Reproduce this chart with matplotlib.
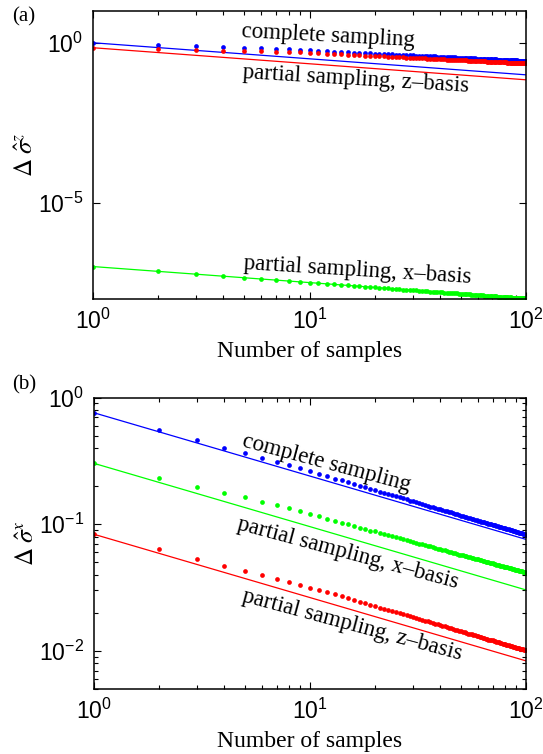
import numpy as np
import matplotlib
matplotlib.use("Agg")
import matplotlib.pyplot as plt
from matplotlib.ticker import FixedLocator, NullLocator, LogLocator, FuncFormatter

plt.rcParams['mathtext.fontset'] = 'stix'

# ---------------- data ----------------
samples = list(range(1, 101))

# panel (a): spread of sigma^z estimate
blue_a = [1.0, 0.866, 0.79, 0.735, 0.71, 0.68, 0.65, 0.63, 0.605, 0.580,
          .562, .546, .532, .519, .508, .496, .487, .478, .469, .462,
          .454, .447, .441, .434, .429, .423, .418, .413, .408, .404,
          .399, .395, .391, .387, .383, .380, .376, .374, .370, .367,
          .364, .361, .358, .356, .353, .350, .348, .346, .343, .341,
          .339, .336, .335, .332, .331, .328, .327, .325, .323, .321,
          .320, .318, .316, .314, .313, .311, .310, .308, .307, .305,
          .304, .302, .301, .300, .298, .297, .296, .295, .293, .292,
          .291, .289, .288, .287, .287, .285, .284, .283, .282, .281,
          .280, .279, .278, .277, .276, .275, .274, .273, .272, .271]
red_a = [0.70, 0.635, 0.59, 0.56, 0.545, 0.535, 0.523, 0.51, 0.50, 0.485,
         .470, .457, .445, .434, .424, .415, .407, .400, .392, .386,
         .380, .374, .369, .363, .358, .354, .350, .345, .341, .338,
         .334, .330, .327, .324, .321, .318, .315, .312, .309, .307,
         .305, .302, .300, .297, .295, .293, .291, .289, .287, .285,
         .283, .281, .280, .278, .276, .275, .273, .272, .270, .269,
         .267, .266, .264, .263, .261, .260, .259, .258, .257, .255,
         .254, .253, .252, .251, .249, .248, .247, .246, .245, .244,
         .243, .242, .241, .240, .240, .239, .238, .237, .236, .235,
         .234, .233, .232, .231, .231, .230, .229, .228, .227, .227]
green_a = [10.5e-8, 7.42e-8, 6.06e-8, 5.25e-8, 4.70e-8, 4.29e-8, 3.97e-8, 3.71e-8, 3.50e-8, 3.32e-8,
           3.17e-8, 3.03e-8, 2.91e-8, 2.81e-8, 2.71e-8, 2.63e-8, 2.55e-8, 2.47e-8, 2.41e-8, 2.35e-8,
           2.29e-8, 2.24e-8, 2.19e-8, 2.14e-8, 2.10e-8, 2.06e-8, 2.02e-8, 1.98e-8, 1.95e-8, 1.92e-8,
           1.89e-8, 1.86e-8, 1.83e-8, 1.80e-8, 1.77e-8, 1.75e-8, 1.73e-8, 1.70e-8, 1.68e-8, 1.66e-8,
           1.64e-8, 1.62e-8, 1.60e-8, 1.58e-8, 1.57e-8, 1.55e-8, 1.53e-8, 1.52e-8, 1.50e-8, 1.48e-8,
           1.47e-8, 1.46e-8, 1.44e-8, 1.43e-8, 1.42e-8, 1.40e-8, 1.39e-8, 1.38e-8, 1.37e-8, 1.36e-8,
           1.34e-8, 1.33e-8, 1.32e-8, 1.31e-8, 1.30e-8, 1.29e-8, 1.28e-8, 1.27e-8, 1.26e-8, 1.25e-8,
           1.25e-8, 1.24e-8, 1.23e-8, 1.22e-8, 1.21e-8, 1.20e-8, 1.20e-8, 1.19e-8, 1.18e-8, 1.17e-8,
           1.17e-8, 1.16e-8, 1.15e-8, 1.15e-8, 1.14e-8, 1.13e-8, 1.13e-8, 1.12e-8, 1.11e-8, 1.11e-8,
           1.10e-8, 1.10e-8, 1.09e-8, 1.08e-8, 1.08e-8, 1.07e-8, 1.07e-8, 1.06e-8, 1.06e-8, 1.05e-8]

# panel (b): spread of sigma^x estimate
blue_b = [0.76, 0.556, 0.46, 0.40, 0.364, 0.334, 0.31, 0.292, 0.277, 0.264,
          .250, .240, .230, .222, .214, .208, .201, .196, .190, .186,
          .181, .177, .173, .169, .166, .163, .160, .157, .154, .152,
          .149, .147, .145, .142, .140, .138, .136, .135, .133, .131,
          .130, .128, .127, .125, .124, .122, .121, .120, .119, .117,
          .116, .115, .114, .113, .112, .111, .110, .109, .108, .107,
          .106, .105, .105, .104, .103, .102, .101, .101, .0999, .0992,
          .0985, .0979, .0971, .0964, .0959, .0952, .0946, .0940, .0934, .0928,
          .0922, .0916, .0911, .0906, .0901, .0895, .0890, .0885, .0880, .0875,
          .0870, .0866, .0861, .0856, .0852, .0847, .0842, .0838, .0834, .0830]
green_b = [0.303, 0.233, 0.198, 0.177, 0.163, 0.150, 0.141, 0.134, 0.127, 0.121,
           .1161, .1111, .1068, .1029, .1004, .0973, .0943, .0917, .0892, .0879,
           .0858, .0838, .0819, .0802, .0794, .0779, .0764, .0750, .0737, .0729,
           .0717, .0705, .0695, .0684, .0678, .0668, .0659, .0650, .0642, .0639,
           .0631, .0623, .0616, .0609, .0602, .0595, .0589, .0583, .0577, .0576,
           .0570, .0565, .0559, .0554, .0549, .0544, .0539, .0534, .0530, .0528,
           .0524, .0519, .0515, .0511, .0507, .0503, .0500, .0496, .0492, .0491,
           .0488, .0485, .0481, .0478, .0475, .0471, .0469, .0465, .0462, .0462,
           .0459, .0456, .0453, .0451, .0448, .0445, .0443, .0440, .0438, .0437,
           .0435, .0433, .0430, .0428, .0426, .0424, .0421, .0419, .0417, .0415]
red_b = [0.0834, 0.0635, 0.0536, 0.0472, 0.0428, 0.0396, 0.037, 0.035, 0.0332, 0.0316,
         .0305, .0292, .0280, .0270, .0261, .0253, .0245, .0238, .0232, .0226,
         .0220, .0215, .0211, .0206, .0202, .0198, .0194, .0191, .0188, .0184,
         .0181, .0179, .0176, .0173, .0171, .0168, .0166, .0164, .0162, .0160,
         .0158, .0156, .0154, .0152, .0151, .0149, .0147, .0146, .0144, .0143,
         .0141, .0140, .0139, .0137, .0136, .0135, .0134, .0133, .0132, .0130,
         .0129, .0128, .0127, .0126, .0125, .0124, .0123, .0123, .0122, .0121,
         .0120, .0119, .0118, .0117, .0117, .0116, .0115, .0114, .0114, .0113,
         .0112, .0112, .0111, .0110, .0110, .0109, .0108, .0108, .0107, .0106,
         .0106, .0105, .0105, .0104, .0104, .0103, .0103, .0102, .0102, .0101]

# fitted 1/sqrt(N) lines (end points at N=1 and N=100)
fit_n = [1, 100]
blue_a_fit = [1.0, 0.1]
red_a_fit = [0.70, 0.070]
green_a_fit = [10.5e-8, 1.05e-8]
blue_b_fit = [0.76, 0.076]
green_b_fit = [0.303, 0.0303]
red_b_fit = [0.0834, 0.00834]

label_complete = "complete sampling"
label_z = "partial sampling, z\u2013basis"
label_x = "partial sampling, x\u2013basis"

# ---------------- figure ----------------
W, H = 543, 754
fig = plt.figure(figsize=(W / 100, H / 100), dpi=100)

def box(l, t, r, b):
    return [l / W, 1 - b / H, (r - l) / W, (b - t) / H]

A_TOP, A_BOT = 10.7, 299.3
B_TOP, B_BOT = 397.7, 689
axA = fig.add_axes(box(93, A_TOP, 526, A_BOT))
axB = fig.add_axes(box(94, B_TOP, 526, B_BOT))

BLUE, RED, GREEN = (0, 0, 1), (1, 0, 0), (0, 1, 0)
serif = 'Liberation Serif'
sans = 'Liberation Sans'
ms = 3.4
lw = 0.9

def sci(v, pos):
    e = int(round(np.log10(v)))
    return r'$\mathregular{10^{%d}}$' % e

def style(ax, top, bot, xlab_top):
    ax.set_xscale('log')
    ax.set_yscale('log')
    ax.set_xlim(1, 100)
    ax.xaxis.set_major_locator(FixedLocator([1, 10, 100]))
    ax.xaxis.set_minor_locator(LogLocator(base=10, subs=np.arange(2, 10)))
    ax.xaxis.set_major_formatter(FuncFormatter(sci))
    ax.xaxis.set_minor_formatter(FuncFormatter(lambda v, p: ''))
    ax.yaxis.set_major_formatter(FuncFormatter(sci))
    ax.yaxis.set_minor_formatter(FuncFormatter(lambda v, p: ''))
    ax.tick_params(which='both', direction='in', top=True, right=True, width=0.8)
    ax.tick_params(which='major', length=5, labelsize=16.5, pad=7)
    ax.tick_params(which='minor', length=3)
    for lab in ax.get_xticklabels() + ax.get_yticklabels():
        lab.set_fontfamily(sans)
    for s in ax.spines.values():
        s.set_linewidth(1.1)
    ax.set_xlabel('Number of samples', fontfamily=serif, fontsize=17)
    ax.xaxis.set_label_coords(0.5, -(xlab_top - bot) / (bot - top))
    ax.yaxis.set_label_coords(-0.128, 0.5)

# panel (a)
axA.plot(fit_n, blue_a_fit, '-', color=BLUE, lw=lw)
axA.plot(fit_n, red_a_fit, '-', color=RED, lw=lw)
axA.plot(fit_n, green_a_fit, '-', color=GREEN, lw=lw)
axA.plot(samples, blue_a, 'o', color=BLUE, ms=ms, mew=0)
axA.plot(samples, green_a, 'o', color=GREEN, ms=ms, mew=0)
axA.plot(samples, red_a, 'o', color=RED, ms=ms, mew=0)
axA.set_ylabel(r'$\Delta\;\hat{\sigma}^{z}$', fontsize=18)
style(axA, A_TOP, A_BOT, 341)
axA.set_ylim(1e-8, 1e1)
axA.yaxis.set_major_locator(FixedLocator([1e-5, 1]))
axA.yaxis.set_minor_locator(NullLocator())

# panel (b)
axB.plot(fit_n, blue_b_fit, '-', color=BLUE, lw=lw)
axB.plot(fit_n, green_b_fit, '-', color=GREEN, lw=lw)
axB.plot(fit_n, red_b_fit, '-', color=RED, lw=lw)
axB.plot(samples, blue_b, 'o', color=BLUE, ms=ms, mew=0)
axB.plot(samples, green_b, 'o', color=GREEN, ms=ms, mew=0)
axB.plot(samples, red_b, 'o', color=RED, ms=ms, mew=0)
axB.set_ylabel(r'$\Delta\;\hat{\sigma}^{x}$', fontsize=18)
style(axB, B_TOP, B_BOT, 731)
axB.set_ylim(5e-3, 1)
axB.yaxis.set_major_locator(FixedLocator([1e-2, 1e-1, 1]))
axB.yaxis.set_minor_locator(LogLocator(base=10, subs=np.arange(2, 10)))

def put(x, y, s, rot, size=16.5):
    fig.text(x / W, 1 - y / H, s, rotation=rot, rotation_mode='anchor',
             ha='center', va='center', fontfamily=serif, fontsize=size)

put(328, 36, label_complete, -3)
put(356, 79, label_z, -3.5)
put(357, 270, label_x, -3.5)
put(326, 463, label_complete, -15)
put(348, 553, label_x, -15)
put(352, 625, label_z, -15)

fig.text(12 / W, 1 - 17 / H, '(a)', fontfamily=serif, fontsize=15, ha='left', va='center')
fig.text(12 / W, 1 - 385 / H, '(b)', fontfamily=serif, fontsize=15, ha='left', va='center')

fig.savefig('out.png', dpi=100)
